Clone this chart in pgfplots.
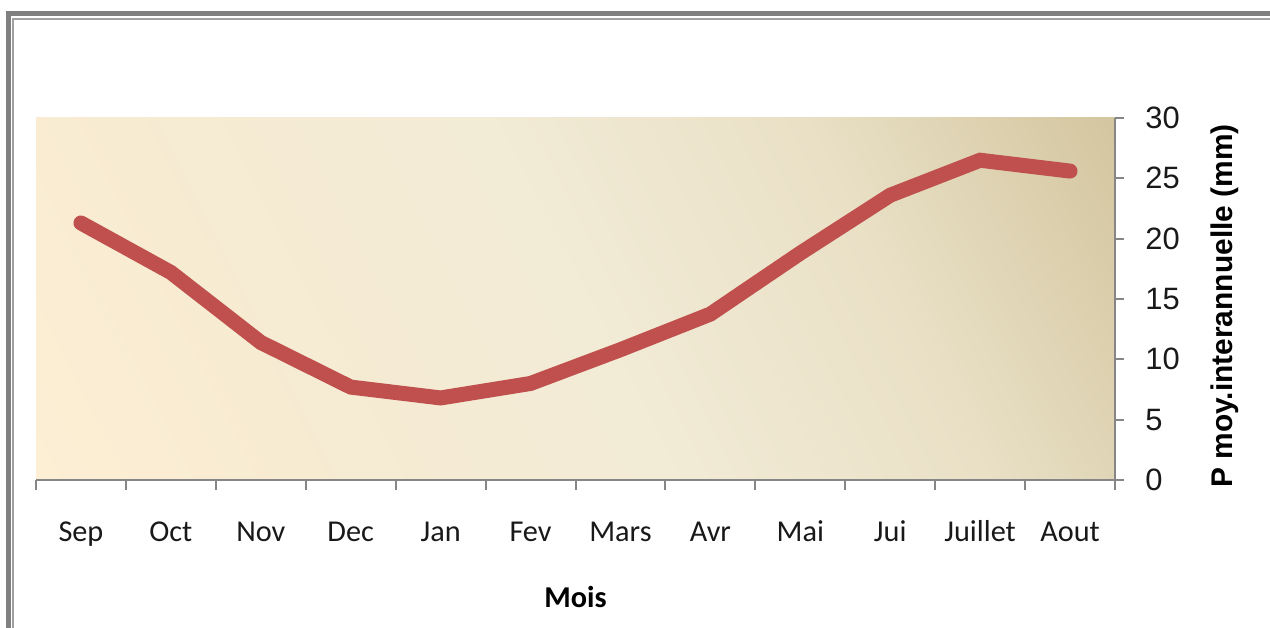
\documentclass[border=0pt]{standalone}
\usepackage{fontspec}
\setmainfont{Carlito}
\newfontfamily\arialfont{Liberation Sans}
\usepackage{pgfplots}
\pgfplotsset{compat=1.18}
\definecolor{linered}{RGB}{192,80,77}
\definecolor{axisgray}{RGB}{134,134,134}
\definecolor{frameOuter}{RGB}{128,128,128}
\definecolor{frameInner}{RGB}{160,160,160}
\definecolor{bgA}{RGB}{253,239,212}
\definecolor{bgB}{RGB}{247,235,210}
\definecolor{bgC}{RGB}{242,235,214}
\definecolor{bgD}{RGB}{233,224,198}
\definecolor{bgE}{RGB}{211,197,158}
\pgfdeclarehorizontalshading{bgshade}{100bp}{color(0bp)=(bgA); color(16bp)=(bgA); color(30bp)=(bgB); color(50bp)=(bgC); color(67bp)=(bgD); color(84bp)=(bgE); color(100bp)=(bgE)}
\begin{document}
\begin{tikzpicture}
\useasboundingbox (0,0) rectangle (635bp,314bp);
\draw[draw=frameOuter, line width=2.5bp] (4.25bp,-2bp) -- (4.25bp,307.25bp) -- (640bp,307.25bp);
\draw[draw=frameInner, line width=0.6bp] (6.5bp,-2bp) -- (6.5bp,304.5bp) -- (640bp,304.5bp);
\begin{axis}[
  at={(18bp,74bp)}, anchor=south west,
  scale only axis, width=539.5bp, height=181bp,
  xmin=-0.5, xmax=11.5, ymin=0, ymax=30,
  axis x line*=bottom, axis y line*=right,
  axis line style={draw=axisgray, line width=1.3bp},
  axis background/.style={shade, shading=bgshade, shading angle=27},
  xtick={0,...,11},
  xticklabels={Sep,Oct,Nov,Dec,Jan,Fev,Mars,Avr,Mai,Jui,Juillet,Aout},
  minor xtick={-0.5,0.5,...,11.5},
  ytick={0,5,...,30},
  tick align=outside,
  major tick length=4.5bp,
  minor tick length=5bp,
  major x tick style={draw=none},
  minor x tick style={draw=axisgray, line width=1bp},
  y tick style={draw=axisgray, line width=1bp},
  xticklabel style={font=\fontsize{15.2}{18}\selectfont, text=black!90, anchor=base, yshift=-26bp},
  yticklabel style={font=\arialfont\fontsize{15.5}{18}\selectfont, text=black!90, anchor=west, inner sep=0pt, xshift=10.5bp},
  /pgf/number format/assume math mode=true,
  xlabel={Mois},
  ylabel={P moy.interannuelle (mm)},
  every axis x label/.style={at={(rel axis cs:0.5,0)}, anchor=center, yshift=-58.5bp, font=\bfseries\fontsize{15.2}{18}\selectfont},
  every axis y label/.style={at={(rel axis cs:1,0.5)}, anchor=center, xshift=55bp, yshift=-3.5bp, rotate=90, font=\arialfont\bfseries\fontsize{15}{18}\selectfont},
]
\addplot[linered, line width=7.5bp, line join=miter, line cap=round] coordinates {
(0,21.3) (1,17.2) (2,11.4) (3,7.7) (4,6.8) (5,8.0) (6,10.8) (7,13.75) (8,18.8) (9,23.6) (10,26.5) (11,25.6)};
\end{axis}
\end{tikzpicture}
\end{document}
